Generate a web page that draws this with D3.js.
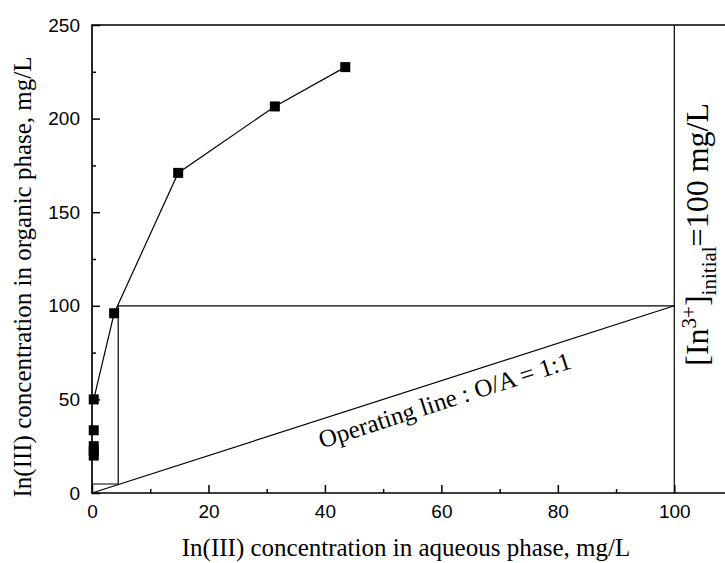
<!DOCTYPE html>
<html><head><meta charset="utf-8">
<script src="https://cdn.jsdelivr.net/npm/d3@7"></script>
<style>html,body{margin:0;padding:0;background:#fff;}svg{display:block;}</style>
</head><body>
<svg id="chart" width="725" height="563"></svg>
<script>
// equilibrium isotherm points (aqueous, organic)
const aqueous = [0.3, 0.3, 0.3, 0.3, 0.3, 3.8, 14.8, 31.4, 43.5];
const organic = [20, 22.5, 25, 33.5, 50, 96, 171, 206.5, 227.5];
// operating line O/A = 1:1
const opX = [0, 100];
const opY = [0, 100];
// McCabe-Thiele stage construction
const stageX = [100, 4.5, 4.5, 0];
const stageY = [100, 100, 4.8, 4.8];
const initialX = 100;
const xTicks = [0, 20, 40, 60, 80, 100];
const yTicks = [0, 50, 100, 150, 200, 250];
const xMinor = [10, 30, 50, 70, 90];
const yMinor = [25, 75, 125, 175, 225];

const svg = d3.select("#chart");
const L = 92, T = 25, B = 493;
const pxPerX = 5.823;
const x = d3.scaleLinear().domain([0, 110]).range([L, L + 110 * pxPerX]);
const y = d3.scaleLinear().domain([0, 250]).range([B, T]);
const R = x(110);

const serif = "'Liberation Serif','Times New Roman',serif";
const sans = "'Liberation Sans',Arial,sans-serif";

// frame
svg.append("path").attr("d", `M${L},${B}L${L},${T}L${R},${T}L${R},${B}Z`)
  .attr("fill", "none").attr("stroke", "#000").attr("stroke-width", 1.7);

// x axis
const gx = svg.append("g").attr("transform", `translate(0,${B})`)
  .call(d3.axisBottom(x).tickValues(xTicks).tickSize(-8).tickPadding(12).tickFormat(d3.format("d")));
gx.select(".domain").remove();
gx.selectAll("line").attr("stroke-width", 1.5);
gx.selectAll("text").attr("font-family", sans).attr("font-size", 19).attr("fill", "#000");
svg.append("g").attr("transform", `translate(0,${B})`)
  .call(d3.axisBottom(x).tickValues(xMinor).tickSize(-4).tickFormat(""))
  .call(g => g.select(".domain").remove()).selectAll("line").attr("stroke-width", 1.5);

// y axis
const gy = svg.append("g").attr("transform", `translate(${L},0)`)
  .call(d3.axisLeft(y).tickValues(yTicks).tickSize(-8).tickPadding(12).tickFormat(d3.format("d")));
gy.select(".domain").remove();
gy.selectAll("line").attr("stroke-width", 1.5);
gy.selectAll("text").attr("font-family", sans).attr("font-size", 19).attr("fill", "#000");
svg.append("g").attr("transform", `translate(${L},0)`)
  .call(d3.axisLeft(y).tickValues(yMinor).tickSize(-4).tickFormat(""))
  .call(g => g.select(".domain").remove()).selectAll("line").attr("stroke-width", 1.5);

// initial concentration vertical line
svg.append("line").attr("x1", x(initialX)).attr("x2", x(initialX))
  .attr("y1", y(0)).attr("y2", y(250)).attr("stroke", "#000").attr("stroke-width", 1.2);

const line = d3.line().x(d => x(d[0])).y(d => y(d[1]));
// operating line
svg.append("path").datum(opX.map((v, i) => [v, opY[i]])).attr("d", line)
  .attr("fill", "none").attr("stroke", "#000").attr("stroke-width", 1.2);
// stage steps
svg.append("path").datum(stageX.map((v, i) => [v, stageY[i]])).attr("d", line)
  .attr("fill", "none").attr("stroke", "#000").attr("stroke-width", 1.2);

// isotherm
const pts = aqueous.map((v, i) => [v, organic[i]]);
svg.append("path").datum(pts.slice(4)).attr("d", line)
  .attr("fill", "none").attr("stroke", "#000").attr("stroke-width", 1.2);
svg.selectAll("rect.pt").data(pts).enter().append("rect").attr("class", "pt")
  .attr("x", d => x(d[0]) - 5).attr("y", d => y(d[1]) - 5)
  .attr("width", 10).attr("height", 10).attr("fill", "#000");

// axis titles
svg.append("text").attr("x", 406).attr("y", 556)
  .attr("text-anchor", "middle").attr("font-family", serif).attr("font-size", 25)
  .text("In(III) concentration in aqueous phase, mg/L");
svg.append("text").attr("transform", `translate(31,277) rotate(-90)`)
  .attr("text-anchor", "middle").attr("font-family", serif).attr("font-size", 25)
  .text("In(III) concentration in organic phase, mg/L");

// operating line label
const ang = Math.atan2(y(0) - y(100), x(100) - x(0)) * 180 / Math.PI;
svg.append("text").attr("transform", `translate(${x(38)},${y(38)}) rotate(${-ang}) translate(0,28)`)
  .attr("font-family", serif).attr("font-size", 25).text("Operating line : O/A = 1:1");

// initial concentration label
const lab = svg.append("text").attr("transform", `translate(708,103) rotate(-90)`)
  .attr("text-anchor", "end").attr("font-family", serif).attr("font-size", 32);
lab.append("tspan").text("[In");
lab.append("tspan").attr("font-size", 21).attr("dy", -12).text("3+");
lab.append("tspan").attr("dy", 12).text("]");
lab.append("tspan").attr("font-size", 21).attr("dy", 8).text("initial");
lab.append("tspan").attr("dy", -8).text("=100 mg/L");
</script>
</body></html>
